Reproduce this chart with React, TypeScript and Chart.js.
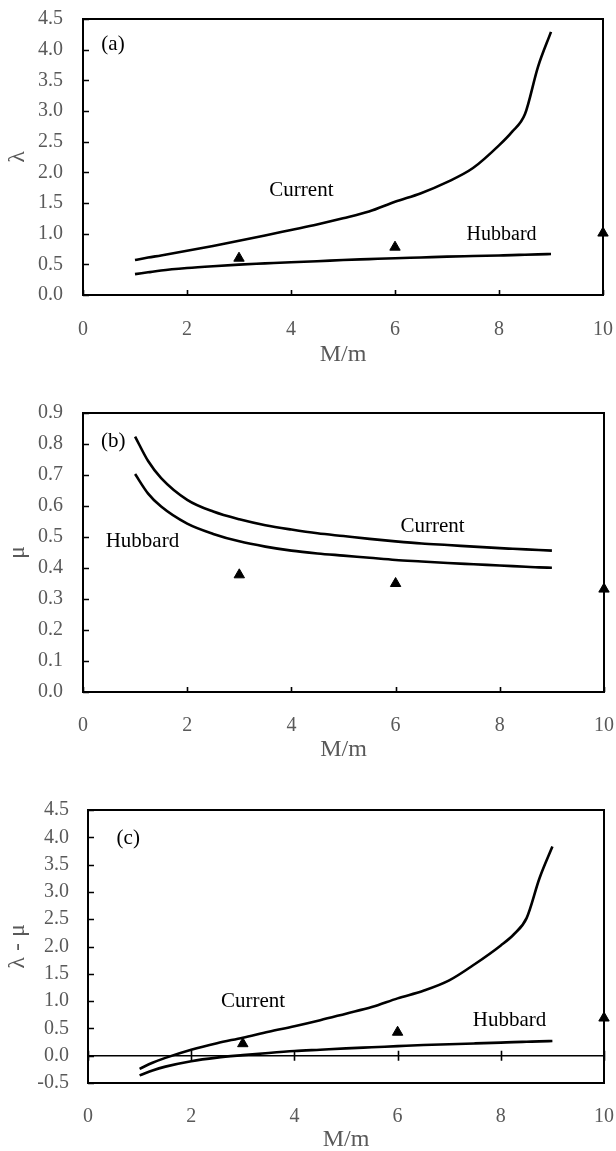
import React, { useEffect, useRef } from 'react';
import { Chart, registerables } from 'chart.js';

Chart.register(...registerables);

const SERIF = '"Liberation Serif", "Times New Roman", serif';
const TICK_GREY = '#595959';

// Mass ratio M/m at which the model curves are sampled
const massRatio = [1, 1.25, 1.5, 2, 2.5, 3, 3.5, 4, 4.5, 5, 5.5, 6, 6.5, 7, 7.5, 8, 8.25, 8.5, 8.75, 9];
// Mass ratios of the measured points (triangles)
const expRatio = [3, 6, 10];

// (a) lambda
const lambdaCurrent = [0.57, 0.61, 0.645, 0.72, 0.8, 0.885, 0.97, 1.06, 1.15, 1.25, 1.36, 1.52, 1.66, 1.84, 2.07, 2.44, 2.66, 2.95, 3.72, 4.29];
const lambdaHubbard = [0.34, 0.37, 0.4, 0.44, 0.47, 0.495, 0.515, 0.535, 0.55, 0.57, 0.585, 0.6, 0.612, 0.625, 0.635, 0.645, 0.65, 0.657, 0.663, 0.668];
const lambdaExp = [0.6, 0.78, 1.01];

// (b) mu
const muCurrent = [0.824, 0.745, 0.69, 0.62, 0.582, 0.557, 0.538, 0.524, 0.512, 0.503, 0.494, 0.486, 0.479, 0.474, 0.469, 0.464, 0.462, 0.46, 0.458, 0.456];
const muHubbard = [0.703, 0.64, 0.598, 0.543, 0.51, 0.486, 0.469, 0.456, 0.447, 0.44, 0.433, 0.426, 0.421, 0.416, 0.412, 0.408, 0.406, 0.404, 0.402, 0.401];
const muExp = [0.378, 0.35, 0.332];

// (c) lambda - mu
const diffCurrent = [-0.24, -0.13, -0.04, 0.11, 0.23, 0.33, 0.44, 0.54, 0.65, 0.77, 0.89, 1.05, 1.19, 1.38, 1.68, 2.02, 2.22, 2.52, 3.25, 3.83];
const diffHubbard = [-0.36, -0.27, -0.2, -0.1, -0.035, 0.01, 0.05, 0.085, 0.11, 0.135, 0.155, 0.175, 0.195, 0.21, 0.225, 0.24, 0.248, 0.255, 0.262, 0.27];
const diffExp = [0.22, 0.43, 0.69];

// Axis ticks
const xTicks = [0, 2, 4, 6, 8, 10];
const lambdaTicks = [0, 0.5, 1, 1.5, 2, 2.5, 3, 3.5, 4, 4.5];
const muTicks = [0, 0.1, 0.2, 0.3, 0.4, 0.5, 0.6, 0.7, 0.8, 0.9];
const diffTicks = [-0.5, 0, 0.5, 1, 1.5, 2, 2.5, 3, 3.5, 4, 4.5];

type Note = { text: string; x: number; y: number; size: number };

type PanelProps = {
  top: number;
  height: number;
  area: { left: number; top: number; right: number; bottom: number };
  yTitle: string;
  yTicks: number[];
  current: number[];
  hubbard: number[];
  exp: number[];
  notes: Note[];
  zeroLine?: boolean;
  xLabelPad: number;
  xTitlePad: number;
  yLabelPad: number;
};

const WIDTH = 616;

function Panel(p: PanelProps) {
  const ref = useRef<HTMLCanvasElement | null>(null);

  useEffect(() => {
    const canvas = ref.current;
    if (!canvas) return;

    // Boxed frame, inward tick marks and in-plot labels
    const framePlugin = {
      id: 'frame',
      afterDatasetsDraw(chart: any) {
        const { ctx, chartArea, scales } = chart;
        const { left, right, top, bottom } = chartArea;
        const xs = scales.x;
        const ys = scales.y;
        ctx.save();
        ctx.strokeStyle = '#000';
        ctx.lineWidth = 1.6;
        ctx.beginPath();
        ys.ticks.forEach((t: any) => {
          const py = Math.round(ys.getPixelForValue(t.value)) + 0.5;
          ctx.moveTo(left, py);
          ctx.lineTo(left + 6, py);
        });
        const base = p.zeroLine ? ys.getPixelForValue(0) : null;
        xs.ticks.forEach((t: any) => {
          const px = Math.round(xs.getPixelForValue(t.value)) + 0.5;
          if (base === null) {
            ctx.moveTo(px, bottom);
            ctx.lineTo(px, bottom - 5);
          } else {
            ctx.moveTo(px, base - 5);
            ctx.lineTo(px, base + 5);
          }
        });
        ctx.stroke();
        ctx.lineWidth = 2;
        ctx.strokeRect(left, top, right - left, bottom - top);

        ctx.fillStyle = '#000';
        ctx.textAlign = 'center';
        ctx.textBaseline = 'alphabetic';
        p.notes.forEach((n) => {
          ctx.font = `${n.size}px ${SERIF}`;
          ctx.fillText(n.text, xs.getPixelForValue(n.x), ys.getPixelForValue(n.y));
        });
        ctx.restore();
      },
    };

    const curve = (label: string, ys: number[]) => ({
      label,
      data: massRatio.map((x, i) => ({ x, y: ys[i] })),
      borderColor: '#000',
      borderWidth: 2.6,
      pointRadius: 0,
      cubicInterpolationMode: 'monotone' as const,
      fill: false,
    });

    const chart = new Chart(canvas, {
      type: 'line',
      data: {
        datasets: [
          curve('Current', p.current),
          curve('Hubbard', p.hubbard),
          {
            label: 'Experiment',
            data: expRatio.map((x, i) => ({ x, y: p.exp[i] })),
            showLine: false,
            pointStyle: 'triangle',
            pointRadius: 6,
            pointBackgroundColor: '#000',
            pointBorderColor: '#000',
            pointBorderWidth: 1,
            clip: false as any,
          } as any,
        ],
      },
      options: {
        responsive: false,
        animation: false,
        devicePixelRatio: 1,
        layout: {
          padding: { left: 0, top: p.area.top, right: WIDTH - p.area.right, bottom: 0 },
        },
        plugins: {
          legend: { display: false },
          tooltip: { enabled: false },
        },
        scales: {
          x: {
            type: 'linear',
            min: 0,
            max: 10,
            afterBuildTicks: (s: any) => {
              s.ticks = xTicks.map((v) => ({ value: v }));
            },
            afterFit: (s: any) => {
              s.height = p.height - p.area.bottom;
              s.paddingLeft = 0;
              s.paddingRight = 0;
            },
            grid: { display: false },
            border: { display: false },
            ticks: {
              padding: p.xLabelPad,
              color: TICK_GREY,
              font: { family: SERIF, size: 20 },
              maxRotation: 0,
              autoSkip: false,
              callback: (v: any) => String(v),
            },
            title: {
              display: true,
              text: 'M/m',
              color: TICK_GREY,
              font: { family: SERIF, size: 24 },
              padding: { top: 0, bottom: p.xTitlePad },
            },
          },
          y: {
            type: 'linear',
            min: p.yTicks[0],
            max: p.yTicks[p.yTicks.length - 1],
            afterBuildTicks: (s: any) => {
              s.ticks = p.yTicks.map((v) => ({ value: v }));
            },
            afterFit: (s: any) => {
              s.width = p.area.left;
              s.paddingTop = 0;
              s.paddingBottom = 0;
            },
            grid: {
              drawTicks: false,
              drawOnChartArea: true,
              lineWidth: 1.4,
              color: (c: any) =>
                p.zeroLine && c.tick && Math.abs(c.tick.value) < 1e-9 ? '#000' : 'rgba(0,0,0,0)',
            },
            border: { display: false },
            ticks: {
              padding: p.yLabelPad,
              color: TICK_GREY,
              font: { family: SERIF, size: 20 },
              autoSkip: false,
              callback: (v: any) => Number(v).toFixed(1),
            },
            title: {
              display: true,
              text: p.yTitle,
              color: TICK_GREY,
              font: { family: SERIF, size: 24 },
              padding: { top: 3.3, bottom: 0 },
            },
          },
        },
      },
      plugins: [framePlugin],
    });

    return () => chart.destroy();
  }, []);

  return (
    <canvas
      ref={ref}
      width={WIDTH}
      height={p.height}
      style={{ position: 'absolute', left: 0, top: p.top, width: WIDTH, height: p.height }}
    />
  );
}

export default function App() {
  return (
    <div
      style={{
        position: 'absolute',
        left: 0,
        top: 0,
        width: WIDTH,
        height: 1151,
        overflow: 'hidden',
        background: '#fff',
      }}
    >
      <Panel
        top={0}
        height={380}
        area={{ left: 83, top: 19, right: 603, bottom: 295 }}
        yTitle="λ"
        yTicks={lambdaTicks}
        current={lambdaCurrent}
        hubbard={lambdaHubbard}
        exp={lambdaExp}
        xLabelPad={14.7}
        xTitlePad={10.6}
        yLabelPad={20}
        notes={[
          { text: '(a)', x: 0.577, y: 4.0, size: 21 },
          { text: 'Current', x: 4.2, y: 1.61, size: 21 },
          { text: 'Hubbard', x: 8.05, y: 0.9, size: 20 },
        ]}
      />
      <Panel
        top={380}
        height={390}
        area={{ left: 83, top: 33, right: 604, bottom: 312 }}
        yTitle="μ"
        yTicks={muTicks}
        current={muCurrent}
        hubbard={muHubbard}
        exp={muExp}
        xLabelPad={13.5}
        xTitlePad={5.6}
        yLabelPad={20}
        notes={[
          { text: '(b)', x: 0.58, y: 0.789, size: 21 },
          { text: 'Current', x: 6.71, y: 0.517, size: 21 },
          { text: 'Hubbard', x: 1.14, y: 0.469, size: 21 },
        ]}
      />
      <Panel
        top={780}
        height={385}
        area={{ left: 88, top: 30, right: 604, bottom: 303 }}
        yTitle="λ - μ"
        yTicks={diffTicks}
        current={diffCurrent}
        hubbard={diffHubbard}
        exp={diffExp}
        zeroLine
        xLabelPad={13.3}
        xTitlePad={10.6}
        yLabelPad={19}
        notes={[
          { text: '(c)', x: 0.78, y: 3.88, size: 21 },
          { text: 'Current', x: 3.2, y: 0.885, size: 21 },
          { text: 'Hubbard', x: 8.17, y: 0.537, size: 21 },
        ]}
      />
    </div>
  );
}
